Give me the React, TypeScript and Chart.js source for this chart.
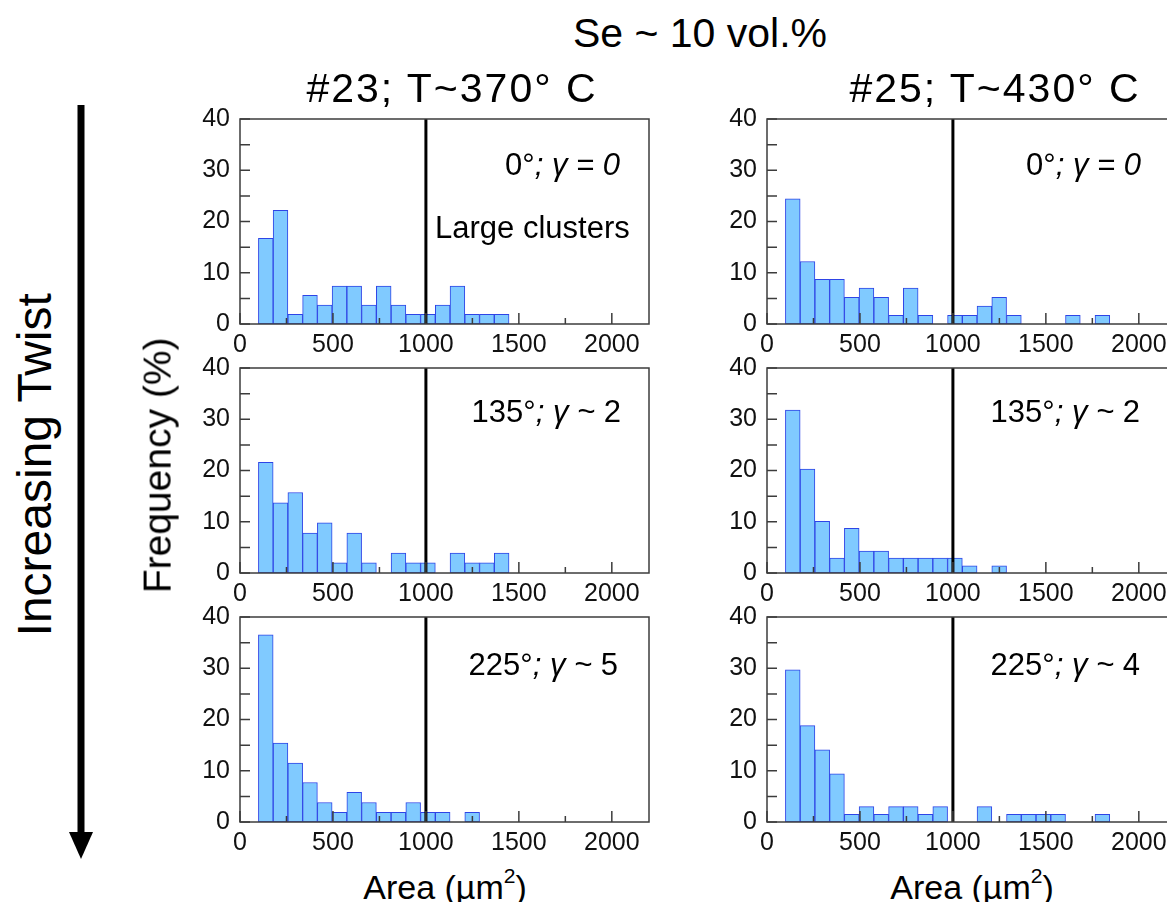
import React, { useEffect, useRef } from "react";
import { Chart, registerables } from "chart.js";

Chart.register(...registerables);

// ---- histogram bins (area, µm²) ----
const BIN_START = 99;
const BIN_WIDTH = 79.3;
const X_MAX = 2200;
const Y_MAX = 40;
const X_TICKS = [0, 500, 1000, 1500, 2000];
const X_MINOR_TICKS = [250, 750, 1250, 1750];
const Y_TICKS = [0, 5, 10, 15, 20, 25, 30, 35, 40];
const LARGE_CLUSTER_AREA = 1000;

// ---- frequencies (%) per bin ----
const freq23Twist0 = [16.7, 22.2, 1.9, 5.6, 3.7, 7.4, 7.4, 3.7, 7.4, 3.7, 1.9, 1.9, 3.7, 7.4, 1.9, 1.9, 1.9, 0, 0, 0, 0, 0];
const freq25Twist0 = [24.4, 12.2, 8.7, 8.7, 5.2, 7.0, 5.2, 1.7, 7.0, 1.7, 0, 1.7, 1.7, 3.5, 5.2, 1.7, 0, 0, 0, 1.7, 0, 1.7];
const freq23Twist135 = [21.6, 13.7, 15.7, 7.8, 9.8, 2.0, 7.8, 2.0, 0, 3.9, 2.0, 2.0, 0, 3.9, 2.0, 2.0, 3.9, 0, 0, 0, 0, 0];
const freq25Twist135 = [31.8, 20.3, 10.1, 2.9, 8.7, 4.3, 4.3, 2.9, 2.9, 2.9, 2.9, 2.9, 1.4, 0, 1.4, 0, 0, 0, 0, 0, 0, 0];
const freq23Twist225 = [36.5, 15.4, 11.5, 7.7, 3.8, 1.9, 5.8, 3.8, 1.9, 1.9, 3.8, 1.9, 1.9, 0, 1.9, 0, 0, 0, 0, 0, 0, 0];
const freq25Twist225 = [29.7, 18.8, 14.1, 9.4, 1.5, 3.0, 1.5, 3.0, 3.0, 1.5, 3.0, 0, 0, 3.0, 0, 1.5, 1.5, 1.5, 1.5, 0, 0, 1.5];

const FONT = "'Liberation Sans', Arial, Helvetica, sans-serif";
const PLOT_W = 409;
const PLOT_H = 205;
const PAD_L = 60;
const PAD_T = 30;
const PAD_R = 10;
const PAD_B = 40;

const framePlugin = {
  id: "frame",
  afterDatasetsDraw(chart: any) {
    const { ctx, chartArea: a, scales } = chart;
    const x = scales.x;
    const y = scales.y;
    ctx.save();
    const tx = x.getPixelForValue(LARGE_CLUSTER_AREA);
    ctx.strokeStyle = "#000";
    ctx.lineWidth = 3;
    ctx.beginPath();
    ctx.moveTo(tx, a.top);
    ctx.lineTo(tx, a.bottom);
    ctx.stroke();

    ctx.strokeStyle = "#3c3c3c";
    ctx.lineWidth = 1.5;
    ctx.strokeRect(a.left, a.top, a.right - a.left, a.bottom - a.top);
    ctx.beginPath();
    for (const v of X_TICKS) {
      const px = x.getPixelForValue(v);
      ctx.moveTo(px, a.bottom);
      ctx.lineTo(px, a.bottom - 11);
    }
    for (const v of X_MINOR_TICKS) {
      const px = x.getPixelForValue(v);
      ctx.moveTo(px, a.bottom);
      ctx.lineTo(px, a.bottom - 6);
    }
    for (const v of Y_TICKS) {
      const py = y.getPixelForValue(v);
      ctx.moveTo(a.left, py);
      ctx.lineTo(a.left + 10, py);
    }
    ctx.stroke();
    ctx.restore();
  },
};

function Panel({ values, left, top }: { values: number[]; left: number; top: number }) {
  const ref = useRef<HTMLCanvasElement | null>(null);
  const w = PAD_L + PLOT_W + PAD_R;
  const h = PAD_T + PLOT_H + PAD_B;
  useEffect(() => {
    const canvas = ref.current;
    if (!canvas) return;
    const data = values.map((v, i) => ({ x: BIN_START + BIN_WIDTH * (i + 0.5), y: v === 0 ? null : v }));
    const tickFont = { family: FONT, size: 25 };
    const chart = new Chart(canvas, {
      type: "bar",
      data: {
        datasets: [
          {
            data: data as any,
            backgroundColor: "#80caff",
            borderColor: "#2e44e6",
            borderWidth: 1,
            borderSkipped: false,
            barPercentage: 1,
            categoryPercentage: 1,
          },
        ],
      },
      options: {
        responsive: false,
        maintainAspectRatio: false,
        animation: false,
        layout: { padding: { top: PAD_T, right: PAD_R, left: 0, bottom: 0 } },
        plugins: { legend: { display: false }, tooltip: { enabled: false } },
        scales: {
          x: {
            type: "linear",
            min: 0,
            max: X_MAX,
            offset: false,
            grid: { display: false, drawTicks: false },
            border: { display: false },
            afterBuildTicks: (s: any) => {
              s.ticks = X_TICKS.map((v) => ({ value: v }));
            },
            afterFit: (s: any) => {
              s.height = PAD_B;
            },
            ticks: {
              font: tickFont,
              color: "#111",
              padding: 6,
              maxRotation: 0,
              autoSkip: false,
              callback: (v: any) => String(v),
            },
          },
          y: {
            type: "linear",
            min: 0,
            max: Y_MAX,
            grid: { display: false, drawTicks: false },
            border: { display: false },
            afterFit: (s: any) => {
              s.width = PAD_L;
            },
            ticks: { font: tickFont, color: "#111", padding: 10, stepSize: 10, callback: (v: any) => String(v) },
          },
        },
      },
      plugins: [framePlugin],
    } as any);
    const ca = chart.chartArea;
    canvas.style.left = `${left - ca.left}px`;
    canvas.style.top = `${top - ca.top}px`;
    return () => chart.destroy();
  }, [values, left, top]);
  return (
    <canvas
      ref={ref}
      width={w}
      height={h}
      style={{ position: "absolute", left: left - PAD_L, top: top - PAD_T, width: w, height: h }}
    />
  );
}

function Txt({
  children,
  x,
  baseline,
  size,
  align = "center",
  style = {},
}: {
  children: any;
  x: number;
  baseline: number;
  size: number;
  align?: "left" | "center" | "right";
  style?: any;
}) {
  const top = baseline - 0.8465 * size;
  const pos: any = { position: "absolute", top, fontSize: size, lineHeight: 1, whiteSpace: "nowrap", fontFamily: FONT, color: "#000" };
  if (align === "left") pos.left = x;
  else if (align === "right") pos.right = 1167 - x;
  else {
    pos.left = x - 400;
    pos.width = 800;
    pos.textAlign = "center";
  }
  return <div style={{ ...pos, ...style }}>{children}</div>;
}

function VText({ children, cx, cy, size }: { children: any; cx: number; cy: number; size: number }) {
  const w = 600;
  const h = size * 1.2;
  return (
    <div
      style={{
        position: "absolute",
        left: cx - w / 2,
        top: cy - h / 2,
        width: w,
        height: h,
        lineHeight: `${h}px`,
        fontSize: size,
        fontFamily: FONT,
        textAlign: "center",
        transform: "rotate(-90deg)",
        transformOrigin: "50% 50%",
        whiteSpace: "nowrap",
        color: "#000",
      }}
    >
      {children}
    </div>
  );
}

const it = { fontStyle: "italic" as const };
const sup = { fontSize: "0.62em", position: "relative" as const, top: "-0.75em" };

export default function App() {
  const L = 240;
  const R = 767;
  const rows = [119, 368, 617];
  return (
    <div
      style={{
        position: "fixed",
        left: 0,
        top: 0,
        width: 1167,
        height: 902,
        overflow: "hidden",
        background: "#fff",
        fontFamily: FONT,
      }}
    >
      <Panel values={freq23Twist0} left={L} top={rows[0]} />
      <Panel values={freq25Twist0} left={R} top={rows[0]} />
      <Panel values={freq23Twist135} left={L} top={rows[1]} />
      <Panel values={freq25Twist135} left={R} top={rows[1]} />
      <Panel values={freq23Twist225} left={L} top={rows[2]} />
      <Panel values={freq25Twist225} left={R} top={rows[2]} />

      <Txt x={700} baseline={48} size={41}>Se ~ 10 vol.%</Txt>
      <Txt x={452} baseline={103} size={41} style={{ letterSpacing: "2px" }}>#23; T~370° C</Txt>
      <Txt x={995} baseline={103} size={41} style={{ letterSpacing: "2px" }}>#25; T~430° C</Txt>

      <Txt x={620} baseline={175} size={31} align="right">
        0°<span style={it}>; γ = 0</span>
      </Txt>
      <Txt x={1141} baseline={175} size={31} align="right">
        0°<span style={it}>; γ = 0</span>
      </Txt>
      <Txt x={435} baseline={238} size={31} align="left">Large clusters</Txt>

      <Txt x={621} baseline={422} size={31} align="right">
        135°<span style={it}>; γ ~</span> 2
      </Txt>
      <Txt x={1140} baseline={422} size={31} align="right">
        135°<span style={it}>; γ ~</span> 2
      </Txt>
      <Txt x={618} baseline={675} size={31} align="right">
        225°<span style={it}>; γ ~</span> 5
      </Txt>
      <Txt x={1140} baseline={675} size={31} align="right">
        225°<span style={it}>; γ ~</span> 4
      </Txt>

      <Txt x={445} baseline={899} size={34}>
        Area (µm<span style={sup}>2</span>)
      </Txt>
      <Txt x={972} baseline={899} size={34}>
        Area (µm<span style={sup}>2</span>)
      </Txt>

      <VText cx={158} cy={465} size={39}>Frequency (%)</VText>
      <VText cx={35} cy={465} size={48}>Increasing Twist</VText>

      <svg width={120} height={902} style={{ position: "absolute", left: 0, top: 0 }}>
        <rect x={77.5} y={105} width={7} height={732} fill="#000" />
        <polygon points="69,832 93,832 81,859" fill="#000" />
      </svg>
    </div>
  );
}
